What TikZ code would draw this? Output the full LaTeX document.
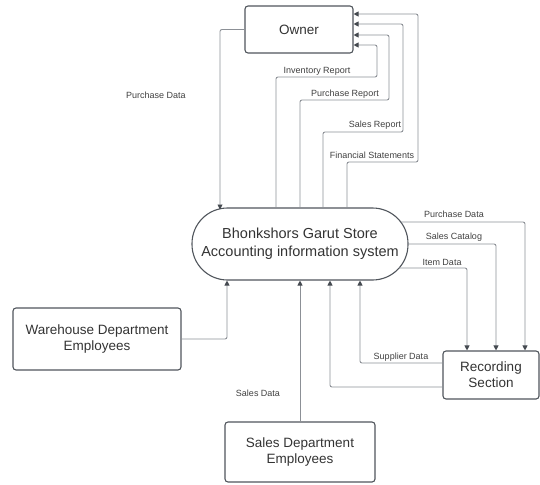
\documentclass[tikz,border=0pt]{standalone}
\usepackage{fontspec}
\setmainfont{Liberation Sans}
\usetikzlibrary{arrows.meta,calc}
\definecolor{boxc}{HTML}{50555C}
\definecolor{linec}{HTML}{8C9096}
\definecolor{tipc}{HTML}{454A50}
\begin{document}
\begin{tikzpicture}[x=1pt,y=-1pt,
  box/.style={draw=boxc,line width=1.1pt,rounded corners=3pt,align=center,inner sep=0pt,font=\fontsize{13.5}{16}\selectfont,text=black!80},
  proc/.style={draw=boxc,line width=1.1pt,rounded corners=35.5pt,align=center,inner sep=0pt,minimum width=216pt,minimum height=72pt,font=\fontsize{14.5}{18}\selectfont,text=black!80},
  conn/.style={draw=linec,line width=0.9pt,rounded corners=2pt,-{Triangle[width=5pt,length=5pt,color=tipc]}},
  lbl/.style={font=\fontsize{9}{10}\selectfont,text=black!75,inner sep=0pt}]
\useasboundingbox (0,0) rectangle (540,484);

\node[box,minimum width=108pt,minimum height=47pt] (owner) at (299,29.5) {Owner};
\node[proc] (sys) at (300,244) {Bhonkshors Garut Store\\Accounting information system};
\node[box,minimum width=168pt,minimum height=62pt] (wh) at (97,339) {Warehouse Department\\Employees};
\node[box,minimum width=150pt,minimum height=60pt] (sales) at (300,452) {Sales Department\\Employees};
\node[box,minimum width=96pt,minimum height=48pt] (rec) at (491,375) {Recording\\Section};

% Owner -> system
\coordinate (pdin) at (220,209.5);
\draw[conn] (owner.west) -| (pdin);
\node[lbl] (l1) at (156,95) {Purchase Data};

% system -> owner reports
\draw[conn] (sys.north -| 276,0) |- (377,77) |- (owner.east |- 0,45);
\node[lbl] (l2) at (317,71) {Inventory Report};
\draw[conn] (sys.north -| 300,0) |- (389,100) |- (owner.east |- 0,35);
\node[lbl] (l3) at (345,94.5) {Purchase Report};
\draw[conn] (sys.north -| 323,0) |- (403,132) |- (owner.east |- 0,24);
\node[lbl] (l4) at (375,125) {Sales Report};
\draw[conn] (sys.north -| 347,0) |- (418,162) |- (owner.east |- 0,14);
\node[lbl] (l5) at (372,155.5) {Financial Statements};

% system -> recording
\coordinate (o1) at (400.5,222);
\coordinate (o3) at (399,268);
\draw[conn] (o1) -| (rec.north -| 525,0);
\node[lbl] (l6) at (454,214) {Purchase Data};
\draw[conn] (sys.east) -| (rec.north -| 496,0);
\node[lbl] (l7) at (454,237.5) {Sales Catalog};
\draw[conn] (o3) -| (rec.north -| 467,0);
\node[lbl] (l8) at (442,262) {Item Data};

% recording -> system
\draw[conn] (rec.west |- 0,363) -| (sys.south -| 360,0);
\node[lbl] (l9) at (401,357) {Supplier Data};
\draw[conn] (rec.west |- 0,387) -| (sys.south -| 330,0);

% warehouse, sales -> system
\draw[conn] (wh.east |- 0,339) -| (sys.south -| 227,0);
\draw[conn] (sales.north) -- (sys.south);
\node[lbl] (l10) at (258,393) {Sales Data};
\end{tikzpicture}
\end{document}
